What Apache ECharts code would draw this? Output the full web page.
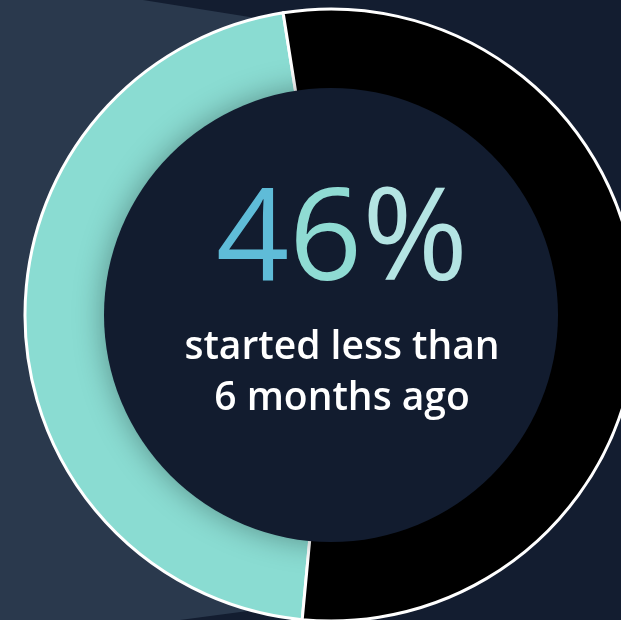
<!DOCTYPE html>
<html>
<head>
<meta charset="utf-8">
<script src="https://cdn.jsdelivr.net/npm/echarts@6/dist/echarts.min.js"></script>
<style>
html,body{margin:0;padding:0;background:#131d30;}
#chart{width:621px;height:620px;}
</style>
</head>
<body>
<div id="chart"></div>
<script>
// Data
var categories = ['Started less than 6 months ago', 'Other'];
var values = [46, 54];
var colors = ['#8adcd2', '#000000'];
var subtitleLines = ['started less than', '6 months ago'];

var chart = echarts.init(document.getElementById('chart'), null, {renderer: 'canvas'});

var cx = 331, cy = 315;
var pctText = values[0] + '%';

// Approximate the gradient of the big number with one colour per character
var charColors = ['#5fbcd8', '#8fdbd3', '#b4e4e3'];
var rich = {};
var richText = pctText.split('').map(function (ch, i) {
  var c = charColors[Math.min(i, charColors.length - 1)];
  rich['c' + i] = {
    fill: c,
    color: c,
    font: "400 128px 'Open Sans'"
  };
  return '{c' + i + '|' + ch + '}';
}).join('');

var option = {
  backgroundColor: '#131d30',
  animation: false,
  graphic: [
    {
      type: 'polygon',
      z: -10,
      silent: true,
      shape: {points: [[0, 0], [143, 0], [331, 30], [331, 600], [180, 620], [0, 620]]},
      style: {fill: '#2a394d'}
    },
    {
      type: 'text',
      z: 100,
      x: 342,
      y: 244,
      silent: true,
      style: {
        text: richText,
        rich: rich,
        fill: '#8fdbd3',
        font: "400 128px 'Open Sans'",
        align: 'center',
        verticalAlign: 'middle'
      }
    },
    {
      type: 'text',
      z: 100,
      x: 342,
      y: 348,
      silent: true,
      style: {
        text: subtitleLines[0],
        fill: '#ffffff',
        font: "600 39px 'Open Sans'",
        align: 'center',
        verticalAlign: 'middle'
      }
    },
    {
      type: 'text',
      z: 100,
      x: 342,
      y: 399,
      silent: true,
      style: {
        text: subtitleLines[1],
        fill: '#ffffff',
        font: "600 39px 'Open Sans'",
        align: 'center',
        verticalAlign: 'middle'
      }
    }
  ],
  series: [
    {
      type: 'pie',
      center: [cx, cy],
      radius: [190, 306],
      startAngle: -95.4,
      clockwise: true,
      silent: true,
      label: {show: false},
      labelLine: {show: false},
      emphasis: {disabled: true},
      itemStyle: {borderColor: '#ffffff', borderWidth: 3},
      data: categories.map(function (c, i) {
        return {name: c, value: values[i], itemStyle: {color: colors[i]}};
      })
    },
    {
      type: 'pie',
      center: [cx, cy],
      radius: [0, 227],
      silent: true,
      label: {show: false},
      labelLine: {show: false},
      emphasis: {disabled: true},
      itemStyle: {
        color: '#121c2f',
        shadowBlur: 30,
        shadowColor: 'rgba(0,0,0,0.35)'
      },
      data: [{name: 'inner', value: 1}]
    }
  ]
};

chart.setOption(option);
</script>
</body>
</html>
